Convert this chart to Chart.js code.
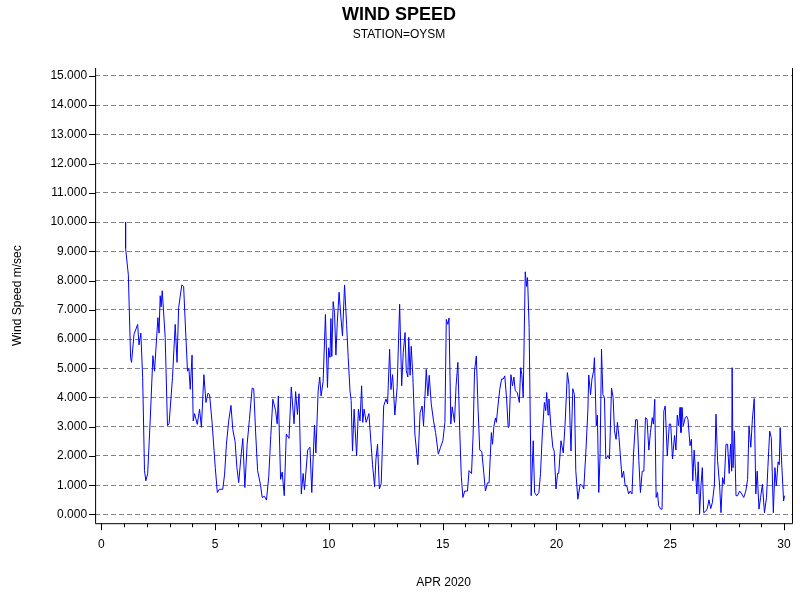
<!DOCTYPE html>
<html>
<head>
<meta charset="utf-8">
<script src="https://cdn.jsdelivr.net/npm/chart.js@4"></script>
<style>
  body { margin: 0; background: #fff; }
  #wrap { width: 800px; height: 600px; }
</style>
</head>
<body>
<div id="wrap"><canvas id="chart" width="800" height="600"></canvas></div>
<script>
// day of April 2020 (fractional) and wind speed m/sec
const days = [1.07,1.07,1.19,1.29,1.33,1.44,1.60,1.66,1.74,1.82,1.90,1.96,2.04,2.15,2.27,2.34,2.49,2.54,2.59,2.63,2.68,2.81,2.91,2.98,3.13,3.25,3.33,3.40,3.47,3.54,3.62,3.72,3.79,3.85,3.91,3.99,4.04,4.10,4.22,4.32,4.40,4.51,4.60,4.69,4.76,4.87,5.01,5.10,5.19,5.34,5.42,5.50,5.60,5.70,5.78,5.88,5.96,6.04,6.13,6.22,6.31,6.41,6.51,6.63,6.70,6.78,6.87,7.00,7.07,7.17,7.26,7.36,7.45,7.54,7.66,7.73,7.78,7.88,7.95,8.04,8.13,8.25,8.35,8.47,8.54,8.62,8.69,8.79,8.87,8.93,9.07,9.17,9.25,9.37,9.43,9.53,9.60,9.66,9.75,9.85,9.94,9.99,10.05,10.09,10.13,10.19,10.25,10.31,10.37,10.45,10.53,10.60,10.69,10.78,10.85,10.93,10.98,11.04,11.11,11.22,11.30,11.37,11.44,11.49,11.55,11.64,11.76,11.85,11.92,12.01,12.07,12.14,12.22,12.30,12.41,12.51,12.58,12.67,12.73,12.80,12.90,13.00,13.11,13.20,13.27,13.35,13.40,13.47,13.51,13.57,13.62,13.69,13.78,13.91,14.01,14.10,14.16,14.28,14.35,14.41,14.50,14.60,14.69,14.81,14.91,15.01,15.10,15.16,15.23,15.28,15.36,15.42,15.52,15.59,15.67,15.75,15.82,15.89,15.97,16.09,16.16,16.27,16.34,16.40,16.48,16.56,16.63,16.72,16.81,16.88,16.97,17.04,17.14,17.19,17.25,17.32,17.36,17.44,17.51,17.59,17.66,17.73,17.81,17.88,17.92,18.00,18.07,18.13,18.19,18.28,18.37,18.43,18.48,18.54,18.63,18.69,18.73,18.80,18.89,18.98,19.04,19.13,19.23,19.30,19.38,19.47,19.53,19.57,19.63,19.67,19.76,19.84,19.90,19.98,20.05,20.10,20.20,20.30,20.38,20.48,20.55,20.60,20.64,20.72,20.79,20.85,20.94,21.04,21.15,21.20,21.29,21.38,21.42,21.50,21.56,21.63,21.67,21.75,21.80,21.86,21.92,21.98,22.04,22.11,22.17,22.26,22.33,22.42,22.49,22.55,22.62,22.68,22.75,22.88,22.95,23.02,23.09,23.17,23.24,23.32,23.39,23.48,23.55,23.62,23.69,23.77,23.84,23.91,23.98,24.06,24.13,24.21,24.26,24.32,24.38,24.44,24.49,24.58,24.64,24.72,24.78,24.87,24.96,25.02,25.10,25.19,25.25,25.31,25.37,25.43,25.47,25.52,25.57,25.66,25.72,25.78,25.87,25.93,25.99,26.05,26.11,26.17,26.23,26.29,26.35,26.41,26.47,26.55,26.63,26.70,26.78,26.85,26.94,27.01,27.08,27.17,27.23,27.30,27.37,27.45,27.52,27.59,27.65,27.70,27.72,27.76,27.82,27.89,27.96,28.05,28.14,28.23,28.32,28.40,28.46,28.54,28.61,28.69,28.76,28.82,28.90,28.97,29.05,29.14,29.23,29.29,29.37,29.44,29.53,29.60,29.66,29.74,29.79,29.83,29.90,29.98,30.02];
const speeds = [10.0,9.1,8.2,5.36,5.2,6.16,6.5,5.8,6.2,4.68,1.5,1.15,1.4,3.2,5.43,4.9,6.73,6.2,7.48,7.1,7.65,6.05,3.04,3.1,4.68,6.5,5.2,7.07,7.47,7.85,7.8,6.05,4.9,5.0,4.28,5.45,3.2,3.45,3.08,3.6,2.98,4.78,3.83,4.15,4.1,3.14,1.6,0.75,0.86,0.86,1.38,2.4,3.2,3.73,2.9,2.5,1.6,1.09,1.9,2.6,0.92,2.4,3.25,4.32,4.3,2.85,1.5,1.0,0.58,0.62,0.49,1.3,2.7,3.94,3.55,3.1,4.05,1.2,1.45,0.64,2.75,2.6,4.36,3.1,4.2,3.42,4.13,0.7,1.4,0.85,2.2,2.3,0.75,3.05,2.1,4.22,4.7,4.05,4.55,6.84,4.34,5.7,5.37,6.7,5.4,7.28,6.9,5.45,6.55,7.6,6.75,6.1,7.85,6.5,5.37,4.22,3.9,2.17,3.6,2.0,3.6,3.2,4.4,3.15,3.6,3.15,3.45,2.46,1.7,0.95,1.9,2.4,0.87,1.05,3.71,3.95,3.78,5.65,4.27,4.78,3.4,4.34,7.19,4.4,5.55,6.22,4.93,4.7,6.06,4.76,5.75,4.76,2.75,1.7,3.48,3.71,3.03,4.96,4.05,4.76,3.78,3.2,2.8,2.06,2.3,2.52,3.15,6.67,6.5,6.72,3.09,3.68,3.15,4.4,5.2,2.86,1.3,0.58,0.8,0.8,1.5,1.4,2.75,4.9,5.42,3.55,2.2,2.15,1.4,0.8,1.08,1.08,2.8,2.4,3.0,3.3,3.15,3.78,4.28,4.63,4.63,4.74,3.95,2.97,3.0,4.78,4.4,4.7,4.23,4.17,3.83,5.02,4.78,4.0,8.3,7.8,8.1,6.4,0.64,2.52,0.75,0.64,0.75,1.4,2.75,3.83,3.55,4.17,3.4,3.95,2.97,2.3,2.17,0.87,1.4,1.4,2.52,2.1,3.09,4.85,4.45,3.03,2.17,4.3,4.1,1.5,0.52,1.03,0.98,0.87,2.1,3.54,4.77,4.1,4.63,4.9,5.36,3.03,3.4,0.75,2.1,5.65,4.1,4.0,1.9,2.0,1.9,4.32,4.0,2.86,2.57,3.15,2.63,1.26,1.48,0.98,0.98,0.7,0.8,0.7,2.1,3.24,3.24,1.85,0.75,1.48,1.48,3.31,3.26,2.2,2.8,3.31,3.09,3.94,0.58,0.75,0.3,0.18,0.18,3.54,3.71,2.0,3.09,3.09,1.9,2.7,2.2,3.4,3.03,3.66,2.8,3.66,3.03,3.31,3.36,3.25,2.35,2.57,1.15,2.2,1.48,0.7,1.8,0.01,0.98,1.6,0.06,0.1,0.2,0.5,0.2,0.4,1.0,3.43,1.85,0.98,0.06,1.26,1.03,2.4,2.4,1.4,2.4,1.48,5.02,1.6,2.86,0.64,0.64,0.8,0.7,0.58,0.8,1.2,3.03,2.3,3.26,3.96,0.7,1.48,0.18,0.58,1.03,0.06,0.58,1.6,2.85,2.63,0.06,1.6,0.98,1.8,1.7,2.97,1.7,0.46,0.64];
const yTicks = [0,1,2,3,4,5,6,7,8,9,10,11,12,13,14,15];
const xMajor = [0,5,10,15,20,25,30];
const xMinor = [1,2,3,4,6,7,8,9,11,12,13,14,16,17,18,19,21,22,23,24,26,27,28,29];

const points = days.map((d, i) => ({ x: d, y: speeds[i] }));
const FONT = 'Liberation Sans, Arial, sans-serif';

// axis frame and tick marks drawn like the SAS output
const framePlugin = {
  id: 'frame',
  afterDraw(chart) {
    const { ctx, chartArea: a, scales: { x, y } } = chart;
    ctx.save();
    ctx.strokeStyle = '#000';
    ctx.lineWidth = 1;
    ctx.beginPath();
    ctx.moveTo(a.left + 0.5, a.top);
    ctx.lineTo(a.left + 0.5, a.bottom + 0.5);
    ctx.lineTo(a.right + 0.5, a.bottom + 0.5);
    ctx.lineTo(a.right + 0.5, a.top);
    xMajor.forEach(v => {
      const px = Math.round(x.getPixelForValue(v)) + 0.5;
      ctx.moveTo(px, a.bottom); ctx.lineTo(px, a.bottom + 7);
    });
    xMinor.forEach(v => {
      const px = Math.round(x.getPixelForValue(v)) + 0.5;
      ctx.moveTo(px, a.bottom); ctx.lineTo(px, a.bottom + 4);
    });
    yTicks.forEach(v => {
      const py = Math.round(y.getPixelForValue(v)) + 0.5;
      ctx.moveTo(a.left - 6, py); ctx.lineTo(a.left, py);
    });
    ctx.stroke();
    ctx.restore();
  }
};

new Chart(document.getElementById('chart'), {
  type: 'line',
  data: {
    datasets: [{
      data: points,
      borderColor: '#0000ff',
      borderWidth: 1,
      pointRadius: 0,
      tension: 0,
      fill: false
    }]
  },
  options: {
    responsive: false,
    animation: false,
    layout: { padding: { left: 6, right: 8, top: 4, bottom: 6 } },
    plugins: {
      legend: { display: false },
      tooltip: { enabled: false },
      title: {
        display: true, text: 'WIND SPEED', color: '#000',
        font: { family: FONT, size: 18, weight: 'bold' },
        padding: { top: 0, bottom: 2 }
      },
      subtitle: {
        display: true, text: 'STATION=OYSM', color: '#000',
        font: { family: FONT, size: 12 },
        padding: { top: 0, bottom: 26 }
      }
    },
    scales: {
      x: {
        type: 'linear', min: -0.27, max: 30.35,
        afterBuildTicks: s => { s.ticks = xMajor.map(v => ({ value: v })); },
        ticks: { color: '#000', font: { family: FONT, size: 12 }, padding: 6, maxRotation: 0 },
        grid: { display: false },
        border: { display: false },
        title: {
          display: true, text: 'APR 2020', color: '#000',
          font: { family: FONT, size: 12 }, padding: { top: 18 }
        }
      },
      y: {
        min: -0.3, max: 15.27,
        afterBuildTicks: s => { s.ticks = yTicks.map(v => ({ value: v })); },
        ticks: {
          color: '#000', font: { family: FONT, size: 12 }, padding: 8,
          callback: v => v.toFixed(3)
        },
        grid: {
          color: '#808080', drawTicks: false,
          borderDash: [5, 3]
        },
        border: { display: false, dash: [5, 3] },
        title: {
          display: true, text: 'Wind Speed m/sec', color: '#000',
          font: { family: FONT, size: 12 }, padding: { bottom: 18 }
        }
      }
    }
  },
  plugins: [framePlugin]
});
// grid dash (v4 uses border.dash for grid lines)
</script>
</body>
</html>
